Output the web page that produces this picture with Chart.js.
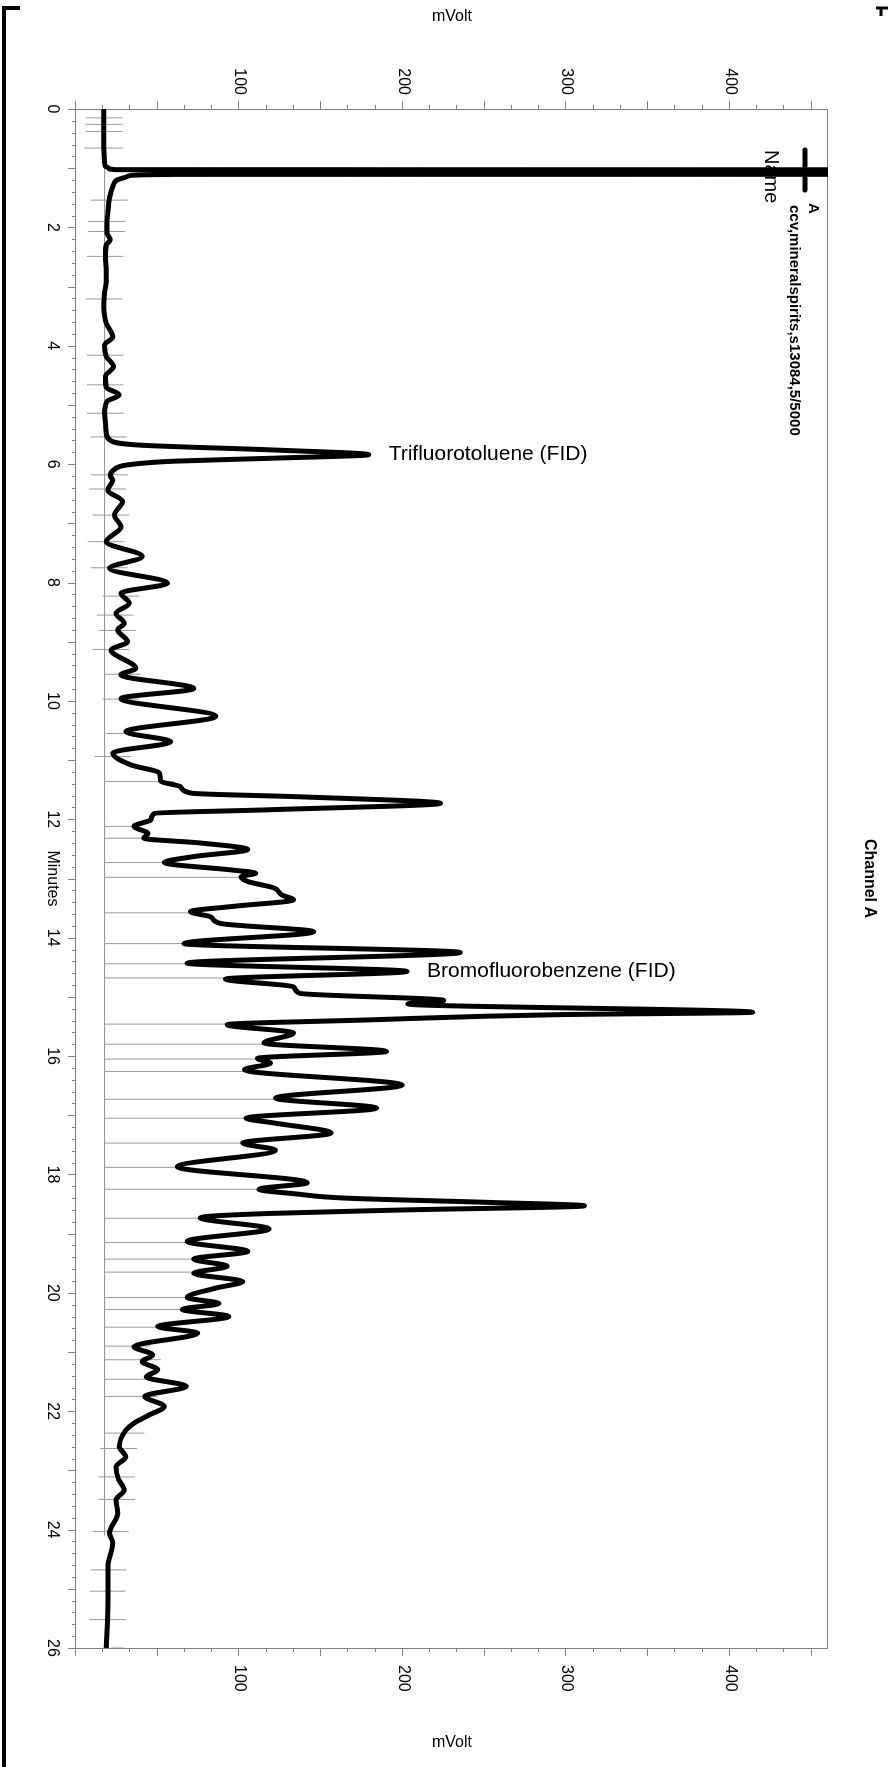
<!DOCTYPE html>
<html>
<head>
<meta charset="utf-8">
<script src="https://cdn.jsdelivr.net/npm/chart.js@4/dist/chart.umd.min.js"></script>
<style>
  html, body { margin: 0; padding: 0; width: 888px; height: 1767px; overflow: hidden; background: #fff; }
  /* the printout is landscape, turned a quarter clockwise onto the page */
  #wrap { position: absolute; left: 0; top: 0; width: 1767px; height: 888px;
          transform-origin: 0 0; transform: translate(888px, 0) rotate(90deg); }
</style>
</head>
<body>
<div id="wrap"><canvas id="gc" width="1767" height="888"></canvas></div>
<script>
// retention time (min) and detector signal (mVolt)
const traceTimes = [0, 0.3, 0.6, 0.9, 0.97, 1.0, 1.025, 1.045, 1.085, 1.105, 1.13, 1.2, 1.31, 1.5, 1.75, 1.93, 2.1, 2.21, 2.3, 2.49, 2.7, 2.92,
  3.1, 3.34, 3.5, 3.62, 3.85, 3.99, 4.18, 4.35, 4.52, 4.7, 4.83, 4.94, 5.14, 5.3, 5.47, 5.6, 5.68, 5.76, 5.84, 5.9,
  5.95, 6.01, 6.1, 6.2, 6.27, 6.44, 6.63, 6.86, 7.06, 7.31, 7.56, 7.76, 8.01, 8.18, 8.35, 8.52, 8.69, 8.8, 9.0, 9.14,
  9.45, 9.56, 9.79, 9.96, 10.26, 10.52, 10.69, 10.88, 11.08, 11.22, 11.36, 11.45, 11.56, 11.62, 11.73, 11.84, 11.9, 12.0, 12.12, 12.24,
  12.32, 12.4, 12.51, 12.63, 12.73, 12.86, 12.91, 12.97, 13.05, 13.16, 13.28, 13.36, 13.47, 13.56, 13.65, 13.76, 13.9, 14.1, 14.25, 14.43,
  14.57, 14.7, 14.83, 14.94, 15.06, 15.12, 15.26, 15.3, 15.39, 15.47, 15.61, 15.78, 15.92, 16.04, 16.12, 16.23, 16.49, 16.71, 16.88, 17.05,
  17.13, 17.3, 17.47, 17.59, 17.87, 18.14, 18.25, 18.33, 18.4, 18.47, 18.53, 18.6, 18.66, 18.73, 18.92, 19.13, 19.3, 19.43, 19.55, 19.67,
  19.81, 19.92, 20.08, 20.18, 20.28, 20.4, 20.57, 20.68, 20.91, 21.05, 21.16, 21.3, 21.42, 21.58, 21.75, 21.92, 22.06, 22.2, 22.32, 22.6,
  22.77, 22.94, 23.15, 23.33, 23.5, 23.72, 24.06, 24.23, 24.62, 25.18, 26.0];
const traceValues = [17, 17, 17, 17.5, 18, 20, 24, 5000, 5000, 60, 32, 25, 22.5, 20.5, 19.5, 19, 19, 21, 18.5, 18, 18.5, 18.5,
  17.5, 17, 17.5, 18.5, 22.5, 17.5, 18.5, 23, 18, 18.5, 26.5, 19, 17.5, 18, 18.5, 21, 40, 120, 179, 120,
  60, 32, 23, 21, 22.5, 19.5, 28.5, 23.5, 27.5, 18.5, 40.5, 20.5, 56, 27.5, 32.5, 24.5, 29.5, 25.5, 31.5, 21.5,
  36.5, 27.5, 72, 27.5, 85.5, 30.5, 58, 22.5, 33.5, 51, 52, 64, 71, 137, 223, 117, 48, 46, 35.5, 44,
  41.5, 76, 105, 72, 54, 96.5, 110, 101, 105, 121, 126, 133, 96.5, 70, 82.5, 88.5, 145.5, 66, 235, 68,
  202.5, 91.5, 133, 137, 225, 203, 414, 296, 178, 92.5, 133, 115, 190, 111, 119, 103, 199.5, 122, 184, 104,
  121, 156, 102, 122, 62, 141.5, 112, 135, 165, 250, 311, 200, 117, 76, 118, 68, 105, 72, 92.5, 72,
  102, 85.5, 68, 87.5, 65, 93.5, 50, 74.5, 35.5, 47, 40.5, 50, 43, 67.5, 42, 54, 45, 35.5, 30.5, 26.5,
  30.5, 24.5, 26, 29.5, 24.5, 25.5, 20.5, 22.5, 19.5, 19.5, 18.5];

// peak event marks: time, low end, high end (mVolt)
const markerTimes = [0.15, 0.26, 0.38, 0.66, 1.54, 1.9, 2.07, 2.49, 3.21, 4.16, 4.66, 5.14, 5.54, 6.18, 6.42, 6.86, 7.31, 7.75,
  8.23, 8.55, 8.81, 9.13, 9.55, 9.97, 10.55, 10.94, 11.36, 12.12, 12.32, 12.73, 12.98, 13.58, 14.1, 14.44, 14.68, 15.46,
  15.8, 16.05, 16.26, 16.73, 17.05, 17.47, 17.88, 18.25, 18.74, 19.15, 19.43, 19.65, 20.08, 20.28, 20.58, 20.9, 21.13, 21.46,
  21.75, 22.37, 22.63, 23.11, 23.49, 24.03, 24.68, 25.04, 25.52, 26.0];
const markerLow = [6, 6, 6, 5, 9, 7.5, 7.5, 6.7, 6, 6.7, 6.7, 6.7, 9, 9.2, 8.1, 10.2, 7.1, 9.2,
  16.3, 12.8, 14.2, 10.2, 17.3, 16.3, 18.3, 11.2, 17.5, 17.5, 17.5, 17.5, 17.5, 17.5, 17.5, 17.5, 17.5, 17.5,
  17.5, 17.5, 17.5, 17.5, 17.5, 17.5, 17.5, 17.5, 17.5, 17.5, 17.5, 17.5, 17.5, 17.5, 17.5, 17.5, 17.5, 17.5,
  17.5, 17.5, 14.9, 13.7, 13.7, 10.2, 8.8, 8.2, 8.2, 21.4];
const markerHigh = [28.5, 28.5, 28.5, 28.5, 31.6, 30, 30, 29, 28.5, 29, 29, 29, 31, 31.6, 30.5, 32.6, 29.5, 31.6,
  38.7, 35.2, 36.6, 32.6, 39.7, 38.7, 40.7, 33.6, 60, 35.6, 42.8, 54, 100.8, 69.2, 66.2, 68.2, 91.6, 92.6,
  115, 113, 102.8, 122, 103.8, 101.8, 62, 111, 76.3, 68.2, 72.3, 72.3, 68.2, 65.2, 49.9, 45.8, 51.9, 54,
  49.9, 41.8, 37.3, 36.1, 36.1, 32.2, 30.8, 30.2, 30.5, 29.5];

const baselineTimes = [0, 24.1];
const baselineValues = [17.5, 17.5];

const peakNames = ['Trifluorotoluene (FID)', 'Bromofluorobenzene (FID)'];
const peakTimes = [5.84, 14.57];
const peakValues = [179, 202.5];

const minuteTicks = [0, 2, 4, 6, 8, 10, 12, 14, 16, 18, 20, 22, 24, 26];
const mvoltTicks = [100, 200, 300, 400];

const FONT = '"Liberation Sans", Arial, sans-serif';

const tracePoints = traceTimes.map((t, i) => ({ x: t, y: traceValues[i] }));
const markerPoints = [];
markerTimes.forEach((t, i) => {
  markerPoints.push({ x: t, y: markerLow[i] }, { x: t, y: markerHigh[i] }, { x: t, y: null });
});
const baselinePoints = baselineTimes.map((t, i) => ({ x: t, y: baselineValues[i] }));

function seg(ctx, x1, y1, x2, y2) {
  ctx.beginPath();
  ctx.moveTo(x1, y1);
  ctx.lineTo(x2, y2);
  ctx.stroke();
}

function rotText(ctx, text, px, py, align) {
  ctx.save();
  ctx.translate(px, py);
  ctx.rotate(-Math.PI / 2);
  ctx.textAlign = align;
  ctx.fillText(text, 0, 0);
  ctx.restore();
}

// axes, ticks, titles and the legend block, all under the trace
const axesPlugin = {
  id: 'axesPlugin',
  beforeDatasetsDraw(chart) {
    const { ctx, chartArea: a, scales: { x, y } } = chart;
    ctx.save();
    ctx.strokeStyle = '#808080';
    ctx.lineWidth = 1;
    ctx.strokeRect(a.left + 0.5, a.top + 0.5, a.right - a.left, a.bottom - a.top);

    // minutes: small tick every 0.2, longer every minute
    for (let i = 0; i <= 130; i++) {
      const px = Math.round(x.getPixelForValue(i / 5)) + 0.5;
      seg(ctx, px, a.bottom, px, a.bottom + (i % 5 === 0 ? 8 : 4));
    }
    // mVolt: small tick every 50/3, longer every 50, on both sides
    for (let i = 0; i * 50 / 3 <= 460; i++) {
      const py = Math.round(y.getPixelForValue(i * 50 / 3)) + 0.5;
      const len = i % 3 === 0 ? 8 : 4;
      seg(ctx, a.left - len, py, a.left, py);
      seg(ctx, a.right, py, a.right + len, py);
    }

    ctx.fillStyle = '#000';
    ctx.textBaseline = 'middle';
    ctx.font = '16px ' + FONT;
    ctx.textAlign = 'center';
    minuteTicks.forEach(t => ctx.fillText(String(t), x.getPixelForValue(t), 836));
    ctx.fillText('Minutes', x.getPixelForValue(13), 836);
    mvoltTicks.forEach(v => {
      const py = y.getPixelForValue(v);
      ctx.textAlign = 'right';
      ctx.fillText(String(v), 95, py);
      ctx.textAlign = 'left';
      ctx.fillText(String(v), 1665, py);
    });
    rotText(ctx, 'mVolt', 17, (a.top + a.bottom) / 2, 'center');
    rotText(ctx, 'mVolt', 1743, (a.top + a.bottom) / 2, 'center');

    ctx.font = 'bold 16px ' + FONT;
    ctx.textAlign = 'center';
    ctx.fillText('Channel A', (a.left + a.right) / 2, 19);

    // legend
    ctx.strokeStyle = '#000';
    ctx.lineWidth = 5;
    ctx.lineCap = 'round';
    seg(ctx, 150, 83, 190, 83);
    ctx.textAlign = 'left';
    ctx.font = 'bold 15px ' + FONT;
    ctx.fillText('A', 203, 75);
    ctx.fillText('ccv,mineralspirits,s13084,5/5000', 205, 94);
    ctx.font = '20px ' + FONT;
    ctx.fillText('Name', 150, 117);

    // page border
    ctx.lineCap = 'butt';
    ctx.lineWidth = 4;
    seg(ctx, 6, 884, 1767, 884);
    seg(ctx, 8, 886, 8, 868);
    ctx.lineWidth = 3;
    seg(ctx, 8, 12, 8, 0);
    seg(ctx, 8, 7, 16, 7);
    ctx.restore();
  },
  afterDatasetsDraw(chart) {
    const { ctx, scales: { x, y } } = chart;
    ctx.save();
    ctx.fillStyle = '#000';
    ctx.textBaseline = 'middle';
    ctx.font = '21px ' + FONT;
    peakNames.forEach((name, i) => {
      rotText(ctx, name, x.getPixelForValue(peakTimes[i]), y.getPixelForValue(peakValues[i]) - 20, 'left');
    });
    ctx.restore();
  }
};

new Chart(document.getElementById('gc').getContext('2d'), {
  type: 'line',
  data: {
    datasets: [
      {
        data: tracePoints,
        borderColor: '#000',
        borderWidth: 5,
        cubicInterpolationMode: 'monotone',
        pointRadius: 0,
        clip: 0,
        order: 0
      },
      {
        data: markerPoints,
        borderColor: '#9a9a9a',
        borderWidth: 1,
        pointRadius: 0,
        spanGaps: false,
        order: 1
      },
      {
        data: baselinePoints,
        borderColor: '#8c8c8c',
        borderWidth: 1,
        pointRadius: 0,
        order: 2
      }
    ]
  },
  options: {
    responsive: false,
    animation: false,
    events: [],
    layout: { padding: { left: 109, right: 119, top: 60, bottom: 76 } },
    plugins: { legend: { display: false }, tooltip: { enabled: false } },
    scales: {
      x: { type: 'linear', min: 0, max: 26, display: false },
      y: { type: 'linear', min: 0, max: 460, display: false }
    }
  },
  plugins: [axesPlugin]
});
</script>
</body>
</html>
